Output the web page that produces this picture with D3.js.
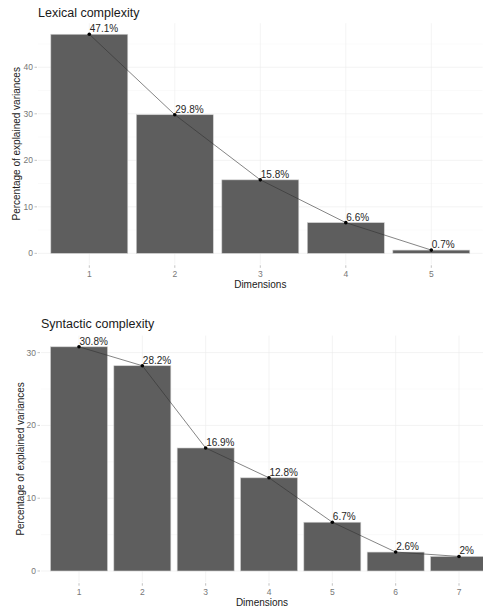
<!DOCTYPE html>
<html lang="en">
<head>
    <meta charset="UTF-8" />
    <title>Scree plots</title>
    <style>
        body, html {
            margin: 0;
            padding: 0;
            overflow: hidden;
            background: #fff;
            font-family: "Liberation Sans", Arial, sans-serif;
        }
        svg { display: block; }
        .grid-major { stroke: #ebebeb; stroke-width: 0.6px; }
        .grid-minor { stroke: #f4f4f4; stroke-width: 0.5px; }
        .tick-text { font-size: 8.5px; fill: #777; }
        .axis-title { font-size: 10px; fill: #1a1a1a; }
        .plot-title { font-size: 12.5px; fill: #1a1a1a; }
        .bar-label { font-size: 10px; fill: #262626; }
    </style>
</head>
<body>
<svg width="483" height="612"></svg>

<script src="https://d3js.org/d3.v7.min.js"></script>
<script>
    // 数据
    const lexDims = ["1", "2", "3", "4", "5"];
    const lexValues = [47.1, 29.8, 15.8, 6.6, 0.7];
    const lexTicks = [0, 10, 20, 30, 40];

    const synDims = ["1", "2", "3", "4", "5", "6", "7"];
    const synValues = [30.8, 28.2, 16.9, 12.8, 6.7, 2.6, 2.0];
    const synTicks = [0, 10, 20, 30];

    const svg = d3.select("svg");

    drawScree({
        title: "Lexical complexity",
        dims: lexDims, values: lexValues, ticks: lexTicks,
        left: 38, right: 482.6, top: 23.3, bottom: 264.3,
        yLabelX: 20, titleY: 17
    });

    drawScree({
        title: "Syntactic complexity",
        dims: synDims, values: synValues, ticks: synTicks,
        left: 41, right: 497, top: 335.6, bottom: 582.2,
        yLabelX: 24, titleY: 328
    });

    function drawScree(c) {
        const g = svg.append("g");
        const max = d3.max(c.values);

        const x = d3.scaleBand()
            .domain(c.dims)
            .range([c.left, c.right])
            .paddingInner(0.1)
            .paddingOuter(0.15);
        const y = d3.scaleLinear()
            .domain([-max * 0.05, max * 1.05])
            .range([c.bottom, c.top]);

        const cx = d => x(d) + x.bandwidth() / 2;

        // 网格线（次要）
        const minor = c.ticks.map(t => t + 5).filter(t => t <= max * 1.05);
        g.append("g").selectAll("line")
            .data(minor)
            .join("line")
            .attr("class", "grid-minor")
            .attr("x1", c.left).attr("x2", c.right)
            .attr("y1", d => y(d)).attr("y2", d => y(d));

        // 网格线（主要）
        g.append("g").selectAll("line")
            .data(c.ticks)
            .join("line")
            .attr("class", "grid-major")
            .attr("x1", c.left).attr("x2", c.right)
            .attr("y1", d => y(d)).attr("y2", d => y(d));

        g.append("g").selectAll("line")
            .data(c.dims)
            .join("line")
            .attr("class", "grid-major")
            .attr("x1", cx).attr("x2", cx)
            .attr("y1", c.top).attr("y2", c.bottom);

        // 柱子
        g.append("g").selectAll("rect")
            .data(c.dims)
            .join("rect")
            .attr("x", d => x(d))
            .attr("width", x.bandwidth())
            .attr("y", (d, i) => y(c.values[i]))
            .attr("height", (d, i) => y(0) - y(c.values[i]))
            .attr("fill", "#5e5e5e")
            .attr("stroke", "#d0d0d0")
            .attr("stroke-width", 0.6);

        // 折线 + 点
        const line = d3.line()
            .x((d, i) => cx(c.dims[i]))
            .y(d => y(d));
        g.append("path")
            .datum(c.values)
            .attr("d", line)
            .attr("fill", "none")
            .attr("stroke", "#333")
            .attr("stroke-width", 0.6);

        g.append("g").selectAll("circle")
            .data(c.values)
            .join("circle")
            .attr("cx", (d, i) => cx(c.dims[i]))
            .attr("cy", d => y(d))
            .attr("r", 1.8)
            .attr("fill", "#000");

        // 数值标签
        g.append("g").selectAll("text")
            .data(c.values)
            .join("text")
            .attr("class", "bar-label")
            .attr("x", (d, i) => cx(c.dims[i]) + 0.5)
            .attr("y", d => y(d) - 2)
            .text(d => d + "%");

        // y 轴
        const yAxis = g.append("g");
        yAxis.selectAll("line")
            .data(c.ticks)
            .join("line")
            .attr("x1", c.left - 3.5).attr("x2", c.left - 1)
            .attr("y1", d => y(d)).attr("y2", d => y(d))
            .attr("stroke", "#999").attr("stroke-width", 0.6);
        yAxis.selectAll("text")
            .data(c.ticks)
            .join("text")
            .attr("class", "tick-text")
            .attr("x", c.left - 5)
            .attr("y", d => y(d))
            .attr("dy", "0.35em")
            .attr("text-anchor", "end")
            .text(d => d);

        // x 轴
        const xAxis = g.append("g");
        xAxis.selectAll("line")
            .data(c.dims)
            .join("line")
            .attr("x1", cx).attr("x2", cx)
            .attr("y1", c.bottom + 1).attr("y2", c.bottom + 3.5)
            .attr("stroke", "#999").attr("stroke-width", 0.6);
        xAxis.selectAll("text")
            .data(c.dims)
            .join("text")
            .attr("class", "tick-text")
            .attr("x", cx)
            .attr("y", c.bottom + 12.5)
            .attr("text-anchor", "middle")
            .text(d => d);

        // 标题
        g.append("text")
            .attr("class", "axis-title")
            .attr("x", (c.left + Math.min(c.right, 483) + 10) / 2 - 5)
            .attr("y", c.bottom + 23.5)
            .attr("text-anchor", "middle")
            .text("Dimensions");

        g.append("text")
            .attr("class", "axis-title")
            .attr("transform", `translate(${c.yLabelX},${(c.top + c.bottom) / 2}) rotate(-90)`)
            .attr("text-anchor", "middle")
            .text("Percentage of explained variances");

        g.append("text")
            .attr("class", "plot-title")
            .attr("x", c.left)
            .attr("y", c.titleY)
            .text(c.title);
    }
</script>
</body>
</html>
